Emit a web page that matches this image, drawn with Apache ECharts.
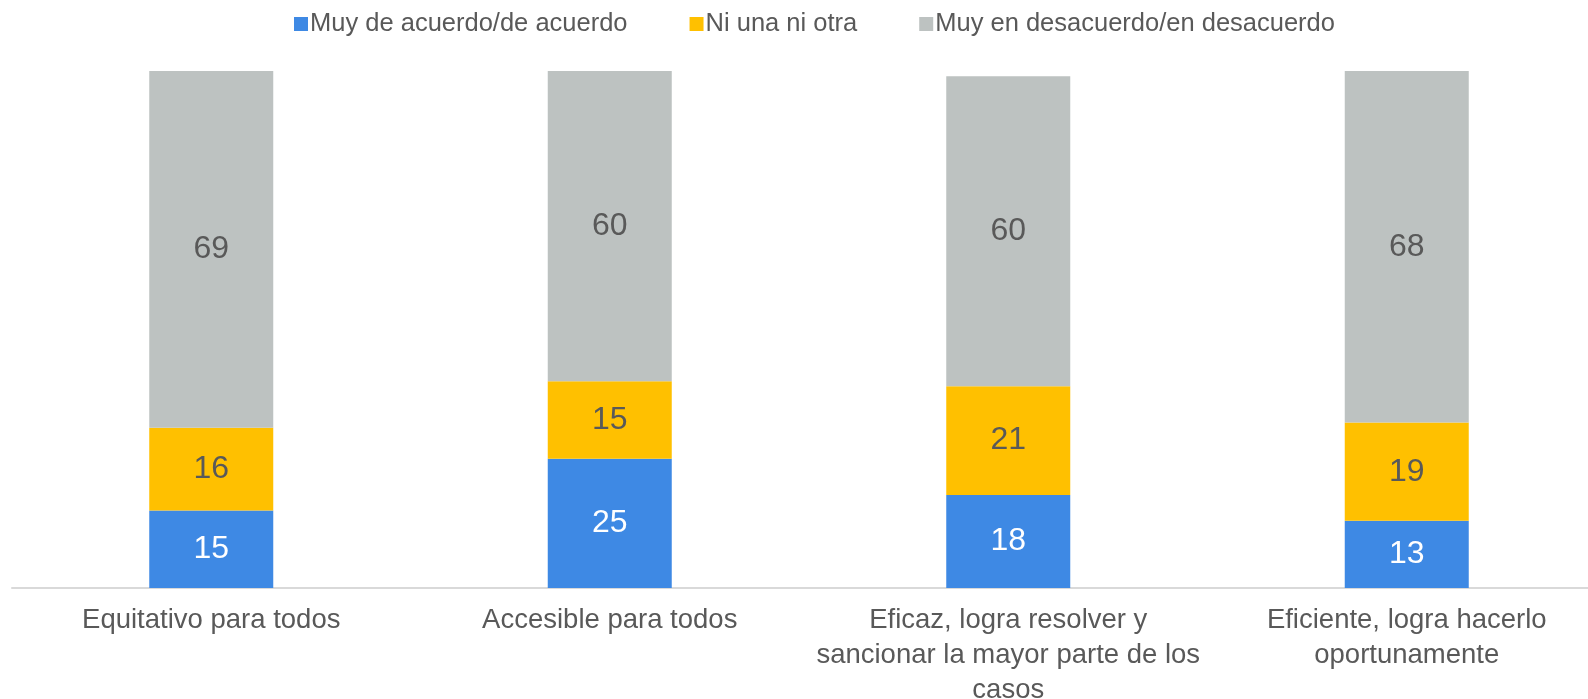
<!DOCTYPE html>
<html>
<head>
<meta charset="utf-8">
<script src="https://cdn.jsdelivr.net/npm/echarts@6/dist/echarts.min.js"></script>
<style>
  html, body { margin: 0; padding: 0; background: #ffffff; }
  #chart { width: 1588px; height: 699px; }
</style>
</head>
<body>
<div id="chart"></div>
<script>
// Categories (line breaks as they should appear under each bar)
const categories = [
  'Equitativo para todos',
  'Accesible para todos',
  'Eficaz, logra resolver y\nsancionar la mayor parte de los\ncasos',
  'Eficiente, logra hacerlo\noportunamente'
];

const seriesNames = [
  'Muy de acuerdo/de acuerdo',
  'Ni una ni otra',
  'Muy en desacuerdo/en desacuerdo'
];

// Percentages per category
const agree    = [15, 25, 18, 13];
const neither  = [16, 15, 21, 19];
const disagree = [69, 60, 60, 68];

const colors = ['#3E89E4', '#FFC000', '#BDC2C1'];
const labelColors = ['#ffffff', '#595959', '#595959'];
const fontFamily = '"Liberation Sans", Arial, sans-serif';

const chart = echarts.init(document.getElementById('chart'), null, { renderer: 'canvas' });

function makeSeries(name, data, idx) {
  return {
    name: name,
    type: 'bar',
    stack: 'total',
    barWidth: 124,
    data: data,
    itemStyle: { color: colors[idx] },
    emphasis: { disabled: true },
    label: {
      show: true,
      position: 'inside',
      color: labelColors[idx],
      fontSize: 32,
      fontFamily: fontFamily
    }
  };
}

chart.setOption({
  animation: false,
  backgroundColor: '#ffffff',
  color: colors,
  legend: {
    top: 11,
    left: 294,
    padding: 0,
    itemWidth: 14,
    itemHeight: 14,
    itemGap: 62,
    icon: 'rect',
    textStyle: { color: '#595959', fontSize: 25.5, fontFamily: fontFamily, padding: [0, 0, 0, -3] },
    data: seriesNames
  },
  grid: { left: 12, right: -18, top: 71, bottom: 111, containLabel: false, outerBoundsMode: 'none' },
  xAxis: {
    type: 'category',
    data: categories,
    axisLine: { show: true, lineStyle: { color: '#D9D9D9', width: 2 } },
    axisTick: { show: false },
    axisLabel: {
      color: '#595959',
      fontSize: 27.5,
      fontFamily: fontFamily,
      margin: 15,
      lineHeight: 35,
      interval: 0
    }
  },
  yAxis: {
    type: 'value',
    min: 0,
    max: 100,
    show: false,
    splitLine: { show: false }
  },
  series: [
    makeSeries(seriesNames[0], agree, 0),
    makeSeries(seriesNames[1], neither, 1),
    makeSeries(seriesNames[2], disagree, 2)
  ]
});
</script>
</body>
</html>
